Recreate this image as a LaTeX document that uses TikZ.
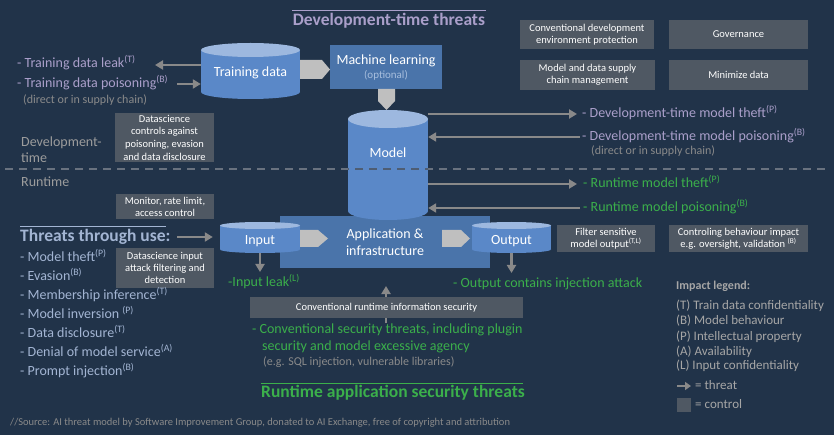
\documentclass[tikz,border=0pt]{standalone}
\usepackage{fontspec}
\setmainfont{Carlito}
\usetikzlibrary{arrows.meta}
\definecolor{bgc}{HTML}{213349}
\definecolor{ctrlc}{HTML}{4F5863}
\definecolor{cylbody}{HTML}{5A88C8}
\definecolor{cyltop}{HTML}{9DB8DF}
\definecolor{boxc}{HTML}{4A74AA}
\definecolor{chevc}{HTML}{BFBFBF}
\definecolor{arrc}{HTML}{898989}
\definecolor{lavc}{HTML}{AA9FCA}
\definecolor{bluec}{HTML}{A3B5D3}
\definecolor{greenc}{HTML}{3BAF4B}
\definecolor{grayc}{HTML}{8A8A8A}
\definecolor{lgrayc}{HTML}{9C9C9C}
\definecolor{legc}{HTML}{A6A6A6}
\definecolor{optc}{HTML}{A7BEDD}
\definecolor{dashc}{HTML}{69727F}
\definecolor{dashdark}{HTML}{4E5D73}
\newcommand{\drawcyl}[5]{%
  \fill[cylbody] (#1-#2,#3) rectangle (#1+#2,#4);
  \fill[cylbody] (#1,#4) ellipse[x radius=#2, y radius=#5];
  \fill[cyltop] (#1,#3) ellipse[x radius=#2, y radius=#5];}
\tikzset{
  ctrl/.style={fill=ctrlc, text=white, align=center, inner sep=0pt, font=\fontsize{10.5}{12}\selectfont},
  lbl/.style={inner sep=0pt, anchor=west, font=\fontsize{14}{16}\selectfont, text height=10pt, text depth=3pt},
  smalllbl/.style={inner sep=0pt, anchor=west, font=\fontsize{12}{14}\selectfont, text height=8.5pt, text depth=2.5pt},
  leglbl/.style={inner sep=0pt, anchor=west, text=legc, font=\fontsize{13}{15}\selectfont, text height=9pt, text depth=3pt},
  threat/.style={draw=arrc, line width=2.5pt, -{Triangle[length=8pt,width=9pt]}},
  chev/.style={fill=chevc},
  bluebox/.style={fill=boxc, inner sep=0pt},
  cylname/.style={inner sep=0pt, text=white, font=\fontsize{14}{16}\selectfont},
  headtxt/.style={inner sep=0pt, font=\bfseries\fontsize{17.5}{20}\selectfont, text height=12.5pt, text depth=4pt},
  divline/.style={line width=2pt, dash pattern=on 8pt off 6pt},
}
\begin{document}
\begin{tikzpicture}[x=1pt,y=-1pt]
\fill[bgc] (0,0) rectangle (834,435);
\useasboundingbox (0,0) rectangle (834,435);

% title
\node[headtxt, text=lavc] (title) at (389,21) {Development-time threats};
\draw[lavc, line width=1pt] (292,11) -- (486,11);

% blue boxes
\node[bluebox, minimum width=112pt, minimum height=44pt] (ml) at (386,67) {};
\node[bluebox, minimum width=210pt, minimum height=52pt, text=white, align=center, font=\fontsize{14}{17}\selectfont] (app) at (385,242) {Application \&\\infrastructure};

% chevrons
\fill[chev] (295,60) -- (322,60) -- (330,69.5) -- (322,79) -- (295,79) -- cycle;
\fill[chev] (378,89) -- (395,89) -- (395,101) -- (386.5,110) -- (378,101) -- cycle;
\fill[chev] (300,230) -- (318,230) -- (328,238.5) -- (318,247) -- (300,247) -- cycle;
\fill[chev] (442,230) -- (461,230) -- (470,238.5) -- (461,247) -- (442,247) -- cycle;

% cylinders
\drawcyl{250.5}{49.5}{50}{92}{7}
\drawcyl{388}{40}{119}{211}{9}
\drawcyl{260}{40}{225.5}{249.5}{3.5}
\drawcyl{511.5}{39.5}{225.5}{249.5}{3.5}

\node[cylname, minimum width=99pt] (td) at (250.5,73) {Training data};
\node[cylname, minimum width=80pt] (model) at (388,153) {Model};
\node[cylname, minimum width=80pt, minimum height=24pt] (input) at (260,241) {Input};
\node[cylname, minimum width=79pt, minimum height=24pt] (output) at (511.5,241) {Output};
\node[inner sep=0pt, text=white, font=\fontsize{14}{16}\selectfont] (mltxt) at (386,61) {Machine learning};
\node[inner sep=0pt, text=optc, font=\fontsize{11}{13}\selectfont] (mlopt) at (386,75.5) {(optional)};

% threat arrows
\coordinate (tdLeakEnd) at (155,65);
\coordinate (tdPoisStart) at (177,84);
\draw[threat] (td.west |- tdLeakEnd) -- (tdLeakEnd);
\draw[threat] (tdPoisStart) -- (td.west |- tdPoisStart);

\coordinate (dtEnd) at (577,114);
\coordinate (dpStart) at (580,137);
\coordinate (rtEnd) at (577,184);
\coordinate (rpStart) at (580,208);
\draw[threat] (model.east |- dtEnd) -- (dtEnd);
\draw[threat] (dpStart) -- (model.east |- dpStart);
\draw[threat] (model.east |- rtEnd) -- (rtEnd);
\draw[threat] (rpStart) -- (model.east |- rpStart);

\coordinate (thrStart) at (177,237);
\draw[threat] (thrStart) -- ([xshift=-7pt]input.west |- thrStart);
\coordinate (inleakEnd) at (260,272);
\draw[threat] (input.south) -- (inleakEnd);
\coordinate (outEnd) at (511.5,273);
\draw[threat] (output.south) -- (outEnd);

% divider
\draw[dashc, divline] (5,169) -- (825,169);
\begin{scope}
  \clip (348,160) rectangle (428,180);
  \draw[dashdark, divline] (5,169) -- (825,169);
\end{scope}

% green conventional text and arrow
\node[lbl, text=greenc] (conv1) at (252,330) {- Conventional security threats, including plugin};
\node[lbl, text=greenc] (conv2) at (262,347) {security and model excessive agency};
\node[smalllbl, text=grayc] (conv3) at (263,362) {(e.g. SQL injection, vulnerable libraries)};
\coordinate (convEnd) at (386,286);
\draw[threat] (conv1.north -| convEnd) -- (convEnd);

% controls
\node[ctrl, minimum width=134pt, minimum height=29pt] (cdev) at (587,34.5) {Conventional development\\environment protection};
\node[ctrl, minimum width=139pt, minimum height=29pt] (gov) at (738.5,34.5) {Governance};
\node[ctrl, minimum width=135pt, minimum height=30pt] (supply) at (587.5,75) {Model and data supply\\chain management};
\node[ctrl, minimum width=139pt, minimum height=30pt] (mini) at (738.5,75) {Minimize data};
\node[ctrl, minimum width=99pt, minimum height=49pt, font=\fontsize{10.5}{12.7}\selectfont] (dsctrl) at (164.5,137.5) {Datascience\\controls against\\poisoning, evasion\\and data disclosure};
\node[ctrl, minimum width=98pt, minimum height=25pt] (monitor) at (165,206.5) {Monitor, rate limit,\\access control};
\node[ctrl, minimum width=98pt, minimum height=40pt] (dsinput) at (165,268) {Datascience input\\attack filtering and\\detection};
\node[ctrl, minimum width=98pt, minimum height=27pt] (filter) at (606,238.5) {Filter sensitive\\model output\textsuperscript{(T,L)}};
\node[ctrl, minimum width=139pt, minimum height=27pt] (behav) at (738.5,238.5) {Controling behaviour impact\\e.g. oversight, validation \textsuperscript{(B)}};
\node[ctrl, minimum width=273pt, minimum height=21pt] (convrt) at (386.5,307.5) {Conventional runtime information security};

% left labels
\node[lbl, text=lavc] (tdleak) at (17,64) {- Training data leak\textsuperscript{(T)}};
\node[lbl, text=lavc] (tdpois) at (17,84) {- Training data poisoning\textsuperscript{(B)}};
\node[smalllbl, text=grayc] (tdsupply) at (23,101) {(direct or in supply chain)};
\node[inner sep=0pt, anchor=west, align=left, text=lgrayc, font=\fontsize{14}{16}\selectfont] (devtime) at (21,150) {Development-\\time};
\node[lbl, text=lgrayc] (rtlabel) at (21,183) {Runtime};

\node[headtxt, anchor=west, text=bluec] (thr) at (20,237) {Threats through use:};
\draw[bluec, line width=1pt] (20,227) -- (166,227);
\node[lbl, text=bluec] (u1) at (20,258) {- Model theft\textsuperscript{(P)}};
\node[lbl, text=bluec] (u2) at (20,277) {- Evasion\textsuperscript{(B)}};
\node[lbl, text=bluec] (u3) at (20,296) {- Membership inference\textsuperscript{(T)}};
\node[lbl, text=bluec] (u4) at (20,315) {- Model inversion \textsuperscript{(P)}};
\node[lbl, text=bluec] (u5) at (20,334) {- Data disclosure\textsuperscript{(T)}};
\node[lbl, text=bluec] (u6) at (20,353) {- Denial of model service\textsuperscript{(A)}};
\node[lbl, text=bluec] (u7) at (20,372) {- Prompt injection\textsuperscript{(B)}};

% right labels
\node[lbl, text=lavc] (dtheft) at (582,114) {- Development-time model theft\textsuperscript{(P)}};
\node[lbl, text=lavc] (dpois) at (582,137) {- Development-time model poisoning\textsuperscript{(B)}};
\node[smalllbl, text=grayc] (dsupply) at (591,152) {(direct or in supply chain)};
\node[lbl, text=greenc] (rtheft) at (583,184) {- Runtime model theft\textsuperscript{(P)}};
\node[lbl, text=greenc] (rpois) at (583,208) {- Runtime model poisoning\textsuperscript{(B)}};

\node[lbl, text=greenc] (inleak) at (228,283) {-Input leak\textsuperscript{(L)}};
\node[lbl, text=greenc] (outinj) at (453,284) {- Output contains injection attack};

\node[headtxt, anchor=west, text=greenc] (rtapp) at (261,393) {Runtime application security threats};
\draw[greenc, line width=1pt] (261,383) -- (523,383);

% source
\node[inner sep=0pt, anchor=west, text=grayc, font=\fontsize{10.5}{12}\selectfont] (src) at (10,422.5) {//Source: AI threat model by Software Improvement Group, donated to AI Exchange, free of copyright and attribution};

% legend
\node[inner sep=0pt, anchor=west, text=legc, font=\bfseries\fontsize{12}{14}\selectfont, text height=8.5pt, text depth=2.5pt] (leg) at (676,287) {Impact legend:};
\node[leglbl] (l1) at (676,306) {(T) Train data confidentiality};
\node[leglbl] (l2) at (676,321) {(B) Model behaviour};
\node[leglbl] (l3) at (676,337) {(P) Intellectual property};
\node[leglbl] (l4) at (676,352) {(A) Availability};
\node[leglbl] (l5) at (676,366) {(L) Input confidentiality};
\coordinate (legA) at (677,386);
\coordinate (legB) at (691,386);
\draw[draw=arrc, line width=2pt, -{Triangle[length=6pt,width=8pt]}] (legA) -- (legB);
\node[leglbl] (lthreat) at (695,386) {= threat};
\fill[ctrlc] (677,398) rectangle (691,412);
\node[leglbl] (lctrl) at (695,405) {= control};
\end{tikzpicture}
\end{document}
